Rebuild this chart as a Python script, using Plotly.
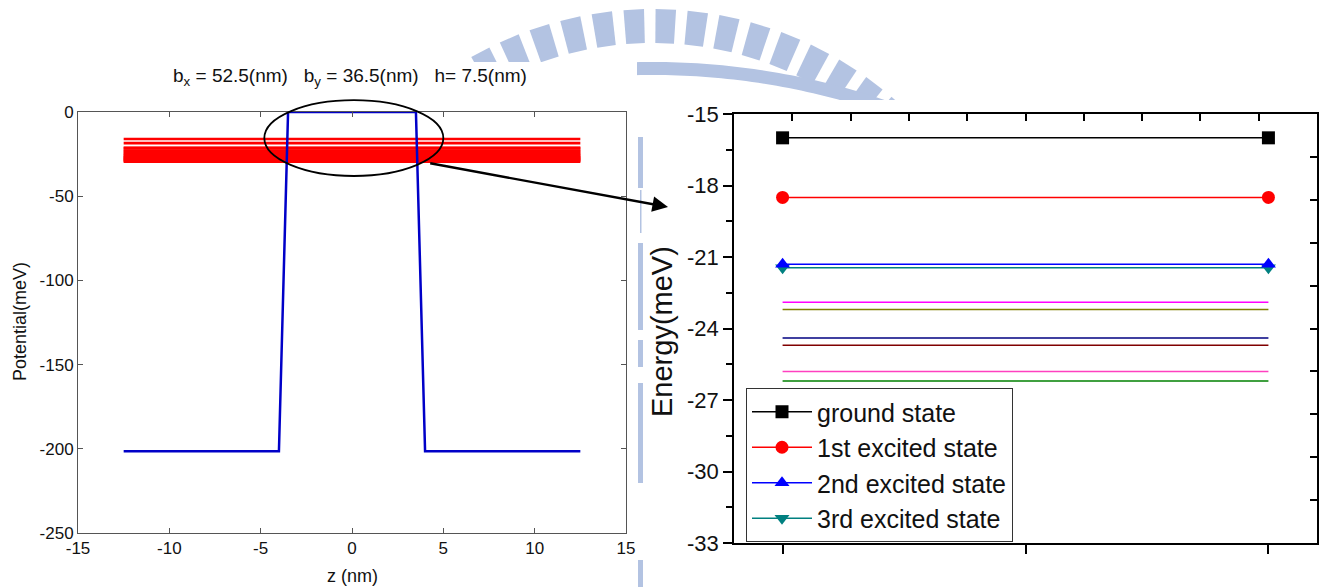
import math
import plotly.graph_objects as go

W, H = 1323, 587

# Potential profile of the dot along z (nm -> meV)
z_profile = [-12.5, -4.0, -3.5, 3.5, 4.0, 12.5]
v_profile = [-201.5, -201.5, 0.0, 0.0, -201.5, -201.5]

# Bound-state energies drawn across the well (meV)
level_span = [-12.5, 12.5]
levels = [-16.0, -18.5, -21.3, -21.45, -22.9, -23.2, -24.4, -24.7, -25.8, -26.2,
          -26.8, -27.3, -27.7, -28.2, -28.6, -29.1, -29.5]

# Lowest states (right panel)
x_cat = [1, 2]
state_names = ["ground state", "1st excited state", "2nd excited state", "3rd excited state"]
state_energy = [-16.0, -18.5, -21.3, -21.45]
state_color = ["#000000", "#ff0000", "#0000ff", "#008080"]
state_symbol = ["square", "circle", "triangle-up", "triangle-down"]
higher_energy = [-22.9, -23.2, -24.4, -24.7, -25.8, -26.2]
higher_color = ["#ff00ff", "#808000", "#000080", "#800000", "#ff40c0", "#008000"]

# Axis ticks
z_ticks = [-15, -10, -5, 0, 5, 10, 15]
v_ticks = [0, -50, -100, -150, -200, -250]
e_ticks = [-15, -18, -21, -24, -27, -30, -33]
frame_ticks = [1, 2, 3, 4, 5, 6, 7, 8, 9]

FONT = "Liberation Sans, Arial, sans-serif"


def px(x):
    return x / W


def py(y):
    return 1 - y / H


# subplot boxes in pixels
L_X, L_Y = (78, 626), (112, 533)
R_X, R_Y = (734, 1317), (114, 543)


def left_to_paper(z, v):
    xp = L_X[0] + (z + 15) / 30 * (L_X[1] - L_X[0])
    yp = L_Y[0] + (0 - v) / 250 * (L_Y[1] - L_Y[0])
    return px(xp), py(yp)


fig = go.Figure()

# energy levels (left)
for e in levels:
    fig.add_trace(go.Scatter(x=level_span, y=[e, e], mode="lines",
                             line=dict(color="#ff0000", width=2.6),
                             showlegend=False, hoverinfo="skip",
                             xaxis="x", yaxis="y"))
# potential profile
fig.add_trace(go.Scatter(x=z_profile, y=v_profile, mode="lines",
                         line=dict(color="#0000c8", width=2.5),
                         showlegend=False, xaxis="x", yaxis="y"))

# right panel: higher levels without markers
for e, c in zip(higher_energy, higher_color):
    fig.add_trace(go.Scatter(x=x_cat, y=[e, e], mode="lines",
                             line=dict(color=c, width=1.5),
                             showlegend=False, xaxis="x2", yaxis="y2"))
# right panel: labelled states (drawn last so markers sit on top)
for name, e, c, s in reversed(list(zip(state_names, state_energy, state_color, state_symbol))):
    fig.add_trace(go.Scatter(x=x_cat, y=[e, e], mode="lines+markers", name=name,
                             line=dict(color=c, width=1.5),
                             marker=dict(symbol=s, size=13, color=c),
                             xaxis="x2", yaxis="y2"))

# frame axes on top/right of the right panel
fig.add_trace(go.Scatter(x=[None], y=[None], showlegend=False, xaxis="x3", yaxis="y3"))

left_axis = dict(showline=True, linecolor="#555555", linewidth=1, mirror="ticks",
                 ticks="inside", ticklen=5, tickcolor="#555555",
                 showgrid=False, zeroline=False,
                 tickfont=dict(family=FONT, size=17, color="#111111"))

fig.update_layout(
    width=W, height=H,
    margin=dict(l=0, r=0, t=0, b=0, autoexpand=False),
    paper_bgcolor="white", plot_bgcolor="rgba(0,0,0,0)",
    font=dict(family=FONT, color="#111111"),
    xaxis=dict(domain=[px(L_X[0]), px(L_X[1])], range=[-15, 15], tickvals=z_ticks,
               ticktext=[str(t) for t in z_ticks], anchor="y", **left_axis),
    yaxis=dict(domain=[py(L_Y[1]), py(L_Y[0])], range=[-250, 0], tickvals=v_ticks,
               ticktext=[str(t) for t in v_ticks], anchor="x", **left_axis),
    xaxis2=dict(domain=[px(R_X[0]), px(R_X[1])], range=[0.9, 2.1], tickvals=[1, 1.5, 2],
                showticklabels=False, ticks="outside", ticklen=9, tickwidth=1.5,
                tickcolor="black", showline=True, linecolor="black", linewidth=1.5,
                showgrid=False, zeroline=False, anchor="y2"),
    yaxis2=dict(domain=[py(R_Y[1]), py(R_Y[0])], range=[-33, -15], tickvals=e_ticks,
                ticktext=[str(t) for t in e_ticks],
                ticks="outside", ticklen=9, tickwidth=1.5, tickcolor="black",
                minor=dict(ticks="outside", ticklen=6, tickwidth=1.5, tickcolor="black",
                           tick0=-15, dtick=1.5),
                showline=True, linecolor="black", linewidth=1.5,
                showgrid=False, zeroline=False, anchor="x2",
                tickfont=dict(family=FONT, size=22, color="#111111")),
    xaxis3=dict(overlaying="x2", side="top", anchor="y3", range=[0, 10],
                tickvals=frame_ticks, ticks="inside", ticklen=7, tickwidth=1.5,
                tickcolor="black", showticklabels=False, showline=True,
                linecolor="black", linewidth=1.5, showgrid=False, zeroline=False),
    yaxis3=dict(overlaying="y2", side="right", anchor="x3", range=[0, 10],
                tickvals=frame_ticks, ticks="inside", ticklen=7, tickwidth=1.5,
                tickcolor="black", showticklabels=False, showline=True,
                linecolor="black", linewidth=1.5, showgrid=False, zeroline=False),
    legend=dict(x=px(746), y=py(388), xanchor="left", yanchor="top",
                bgcolor="white", bordercolor="#333333", borderwidth=1,
                font=dict(family=FONT, size=25, color="#111111"),
                itemwidth=60, tracegroupgap=0, traceorder="reversed"),
)

# ---- background emblem (light blue) ----
wm = "#b3c3e2"
shapes = []
cx, cy = 653, 377
r_out, r_in = 368, 334
ang = -28.0
while ang <= 42:
    a0, a1 = math.radians(ang - 1.6), math.radians(ang + 1.6)
    pts = [(cx + r_out * math.sin(a0), cy - r_out * math.cos(a0)),
           (cx + r_out * math.sin(a1), cy - r_out * math.cos(a1)),
           (cx + r_in * math.sin(a1), cy - r_in * math.cos(a1)),
           (cx + r_in * math.sin(a0), cy - r_in * math.cos(a0))]
    path = "M " + " L ".join(f"{px(x):.5f},{py(y):.5f}" for x, y in pts) + " Z"
    shapes.append(dict(type="path", path=path, xref="paper", yref="paper",
                       fillcolor=wm, line=dict(width=0), layer="below"))
    ang += 5.0

# inner arc band
bx, by, rb_out, rb_in = 653, 787, 725, 712
outer = [(bx + rb_out * math.sin(math.radians(a)), by - rb_out * math.cos(math.radians(a)))
         for a in [i * 0.5 for i in range(-4, 61)]]
inner = [(bx + rb_in * math.sin(math.radians(a)), by - rb_in * math.cos(math.radians(a)))
         for a in [i * 0.5 for i in range(60, -5, -1)]]
band = "M " + " L ".join(f"{px(x):.5f},{py(y):.5f}" for x, y in outer + inner) + " Z"
shapes.append(dict(type="path", path=band, xref="paper", yref="paper",
                   fillcolor=wm, line=dict(width=0), layer="below"))

# the two white panels hide most of the emblem
for x0, y0, x1, y1 in [(0, 62, 637, H), (645, 100, W, H)]:
    shapes.append(dict(type="rect", xref="paper", yref="paper",
                       x0=px(x0), x1=px(x1), y0=py(y1), y1=py(y0),
                       fillcolor="white", line=dict(width=0), layer="below"))

# emblem visible in the gap between the panels
for y0, y1, x0, x1 in [(137, 188, 638, 643), (190, 233, 640, 641.5), (243, 330, 638, 643),
                       (340, 367, 638, 643), (383, 483, 638, 643), (560, 587, 638, 643)]:
    shapes.append(dict(type="rect", xref="paper", yref="paper",
                       x0=px(x0), x1=px(x1), y0=py(y1), y1=py(y0),
                       fillcolor=wm, line=dict(width=0), layer="below"))

# ellipse highlighting the levels near the top of the well
ex0, ey0 = left_to_paper(-4.8, -38.0)
ex1, ey1 = left_to_paper(5.0, 7.0)
shapes.append(dict(type="circle", xref="paper", yref="paper",
                   x0=ex0, x1=ex1, y0=ey0, y1=ey1,
                   line=dict(color="black", width=1.8), layer="above"))
fig.update_layout(shapes=shapes)

# arrow from the ellipse to the energy panel
tail_x, tail_y = left_to_paper(4.2, -30.3)
head_px, head_py = 668, 207
fig.add_annotation(x=px(head_px), y=py(head_py), xref="paper", yref="paper",
                   ax=tail_x * W - head_px, ay=(1 - tail_y) * H - head_py,
                   axref="pixel", ayref="pixel", text="", showarrow=True,
                   arrowhead=2, arrowsize=1.3, arrowwidth=2.4, arrowcolor="black")

# text labels
label_font = dict(family=FONT, size=18, color="#111111")
fig.add_annotation(x=px(350), y=py(77), xref="paper", yref="paper", showarrow=False,
                   xanchor="center", yanchor="middle",
                   text="b<sub>x</sub> = 52.5(nm) \u00a0 b<sub>y</sub> = 36.5(nm) \u00a0 h= 7.5(nm)",
                   font=dict(family=FONT, size=19, color="#111111"))
fig.add_annotation(x=px(20), y=py(322), xref="paper", yref="paper", showarrow=False,
                   xanchor="center", yanchor="middle",
                   text="Potential(meV)", textangle=-90, font=label_font)
fig.add_annotation(x=px(352), y=py(576), xref="paper", yref="paper", showarrow=False,
                   xanchor="center", yanchor="middle",
                   text="z (nm)", font=label_font)
fig.add_annotation(x=px(662), y=py(332), xref="paper", yref="paper", showarrow=False,
                   xanchor="center", yanchor="middle",
                   text="Energy(meV)", textangle=-90,
                   font=dict(family=FONT, size=29, color="#111111"))

fig.write_html("out.html")
